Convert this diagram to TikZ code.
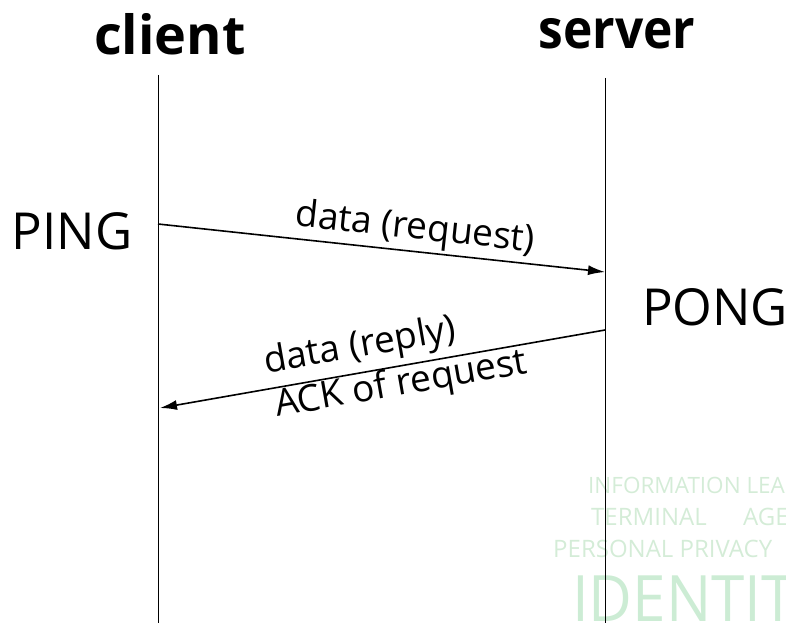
\documentclass[tikz,border=0pt]{standalone}
\usepackage{fontspec}
\setmainfont{Open Sans}
\usetikzlibrary{arrows.meta}
\definecolor{wmgreen}{RGB}{212,236,215}
\definecolor{wmbig}{RGB}{204,236,212}

\begin{document}
\begin{tikzpicture}[x=1pt,y=-1pt,
  role/.style={font=\bfseries\fontsize{54}{54}\selectfont},
  event/.style={font=\fontsize{51}{51}\selectfont},
  msg/.style={font=\fontsize{37}{37}\selectfont, sloped, inner sep=1pt},
  life/.style={line width=1pt},
  send/.style={line width=1.6pt, -{Latex[length=17pt,width=10pt]}},
  wmtext/.style={text=wmgreen, anchor=west, inner sep=0pt, font=\fontsize{24}{24}\selectfont}]

\useasboundingbox (0,0) rectangle (786,623);

\begin{scope}
\clip (0,0) rectangle (786,623);
\node[wmtext, font=\fontsize{22.5}{22.5}\selectfont] (wminfo) at (588,485) {INFORMATION LEAKAGE};
\node[wmtext] (wmterm) at (591,517) {TERMINAL};
\node[wmtext] (wmagent) at (743,517) {AGENT};
\node[wmtext] (wmpriv) at (553,549) {PERSONAL PRIVACY};
\node[wmtext, text=wmbig, anchor=base west, font=\fontsize{64}{64}\selectfont] (wmid) at (572,621) {\scalebox{0.94}[1]{IDENTITY}};
\end{scope}

\node[role] (client) at (170,34) {client};
\node[role] (server) at (617,34) {\scalebox{0.92}[1]{server}};

\coordinate (ctop) at (158,75);
\coordinate (cbot) at (158,623);
\coordinate (stop) at (605,78);
\coordinate (sbot) at (605,623);
\draw[life] (ctop) -- (cbot);
\draw[life] (stop) -- (sbot);

\node[event] (ping) at (72,231) {PING};
\node[event] (pong) at (715,307) {PONG};

\coordinate (reqa) at (158,224);
\coordinate (reqb) at (605,272);
\coordinate (repa) at (605,330);
\coordinate (repb) at (160,408);

\draw[send] (reqa) -- node[msg, pos=0.57, above, inner sep=3pt] (reqlbl) {data (request)} (reqb);
\draw[send] (repa) -- node[msg, pos=0.54, above, inner sep=6pt] (replbl) {data (reply)}
  node[msg, pos=0.465, below, inner sep=0pt] (acklbl) {ACK of request} (repb);

\end{tikzpicture}
\end{document}
